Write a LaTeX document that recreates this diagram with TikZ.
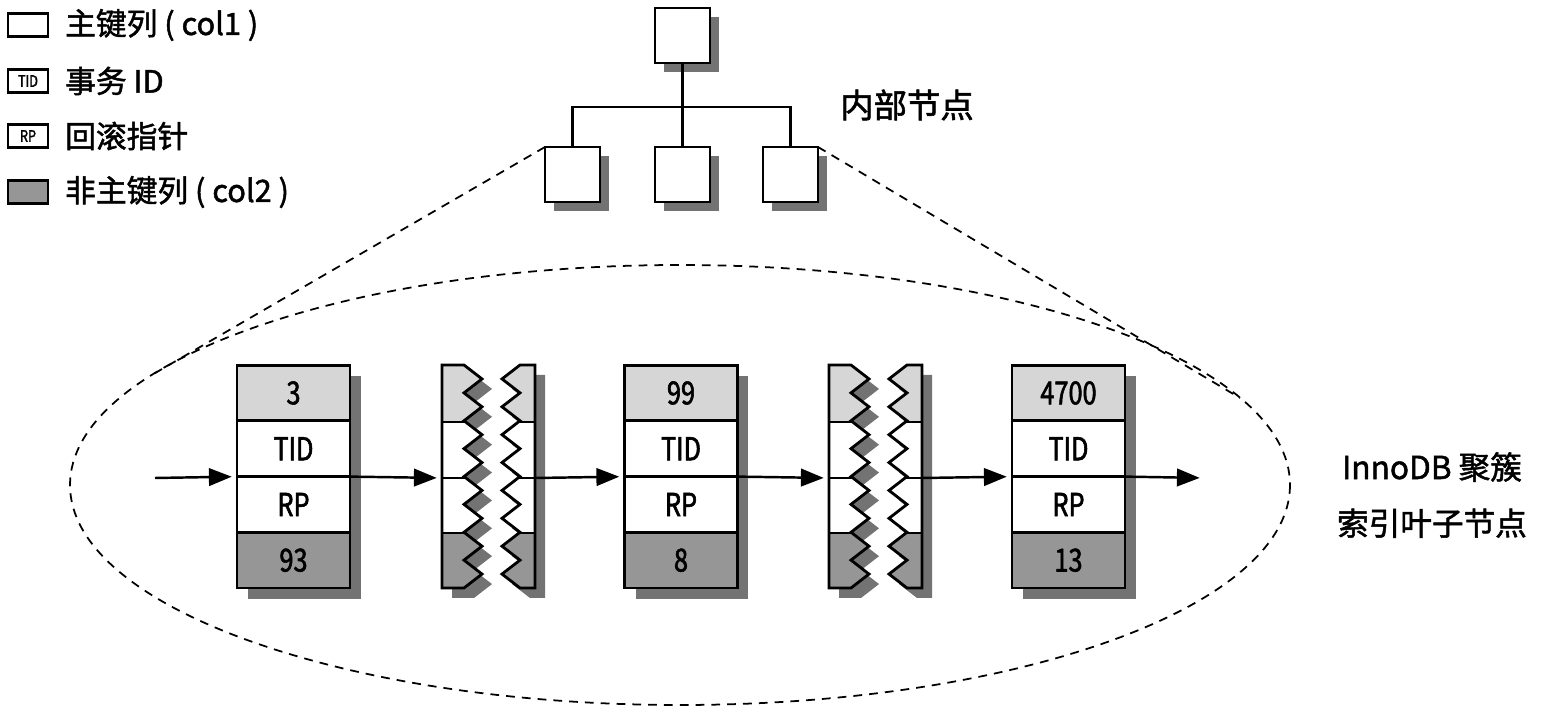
\documentclass[tikz,border=0pt]{standalone}
\usepackage{fontspec}
\setmainfont{Noto Sans CJK SC}[AutoFakeBold=1.6]
\newfontfamily\narrowfont[FakeStretch=0.8, AutoFakeBold=1.8]{Noto Sans CJK SC}
\usetikzlibrary{positioning,arrows.meta,backgrounds}
\definecolor{keycol}{RGB}{214,214,214}
\definecolor{othercol}{RGB}{150,150,150}
\definecolor{shadowcol}{RGB}{115,115,115}

\tikzset{
    lpiece/.style={insert path={(0,365) -- (22,365)
        \foreach \i in {0,...,7}{ -- (40,{365+27.875*\i+13.94}) -- (22,{365+27.875*(\i+1)}) }
        -- (0,588) -- cycle}},
    rpiece/.style={insert path={(93,365) -- (78,365)
        \foreach \i in {0,...,7}{ -- (60,{365+27.875*\i+13.94}) -- (78,{365+27.875*(\i+1)}) }
        -- (93,588) -- cycle}}
}

\begin{document}
\begin{tikzpicture}[x=0.02cm, y=-0.02cm]
    \tikzstyle{cell} = [draw, line width=1.6pt, outer sep=0pt, inner sep=0pt, fill=white,
        minimum width=2.26cm, minimum height=1.115cm, font=\narrowfont\bfseries\fontsize{18}{18}\selectfont]
    \tikzstyle{keycell} = [cell, fill=keycol]
    \tikzstyle{othercell} = [cell, fill=othercol]
    \tikzstyle{tbox} = [draw, line width=1.6pt, fill=white, outer sep=0pt, minimum size=1.1cm]
    \tikzstyle{lbox} = [draw, line width=1.2pt, outer sep=0pt, inner sep=0pt, minimum width=0.8cm,
        minimum height=0.46cm, font=\narrowfont\bfseries\fontsize{9}{9}\selectfont]
    \tikzstyle{ltext} = [right=0.22cm, font=\bfseries\fontsize{17.5}{17.5}\selectfont]
    \tikzstyle{link} = [line width=1.4pt, -{Triangle[length=13pt,width=10pt]}, shorten >=3pt]
    \tikzstyle{tear} = [dash pattern=on 5pt off 4pt, line width=1pt]
    \tikzstyle{branch} = [line width=1.4pt]
    \useasboundingbox (0,0) rectangle (1552,722);

    % legend
    \node[lbox, fill=white] (lkey) at (28,25) {};
    \node[ltext] at (lkey.east) {主键列 ( col1 )};
    \node[lbox] (ltid) at (28,81) {TID};
    \node[ltext] at (ltid.east) {事务 ID};
    \node[lbox] (lrp) at (28,136) {RP};
    \node[ltext] at (lrp.east) {回滚指针};
    \node[lbox, fill=othercol] (lother) at (28,192) {};
    \node[ltext] at (lother.east) {非主键列 ( col2 )};

    % internal nodes
    \node[tbox] (root) at (682.5,35.5) {};
    \node[tbox] (c1) at (572.5,174.5) {};
    \node[tbox] (c2) at (682.5,174.5) {};
    \node[tbox] (c3) at (790.5,174.5) {};
    \begin{scope}[on background layer]
        \foreach \n in {root, c1, c2, c3}
            \fill[shadowcol] ([shift={(9,9)}]\n.north west) rectangle ([shift={(9,9)}]\n.south east);
    \end{scope}
    \coordinate (hub) at (682.5,107);
    \draw[branch] (root) -- (hub) -- (c2);
    \draw[branch] (c1) -- (c1 |- hub) -- (c3 |- hub) -- (c3);
    \node[anchor=west, font=\bfseries\fontsize{19}{19}\selectfont] at (834,105) {内部节点};

    % leaf level
    \draw[tear] (680,485) ellipse [x radius=610, y radius=220];
    \coordinate (eleft) at (150,376);
    \coordinate (eright) at (1240,398);
    \draw[tear] (c1.north west) -- (eleft);
    \draw[tear] (c3.north east) -- (eright);

    \node[keycell] (p1k) at (293.5,393) {3};
    \node[cell, below=0pt of p1k] (p1t) {TID};
    \node[cell, below=0pt of p1t] (p1r) {RP};
    \node[othercell, below=0pt of p1r] (p1o) {93};

    \node[keycell] (p3k) at (681,393) {99};
    \node[cell, below=0pt of p3k] (p3t) {TID};
    \node[cell, below=0pt of p3t] (p3r) {RP};
    \node[othercell, below=0pt of p3r] (p3o) {8};

    \node[keycell] (p5k) at (1068.5,393) {4700};
    \node[cell, below=0pt of p5k] (p5t) {TID};
    \node[cell, below=0pt of p5t] (p5r) {RP};
    \node[othercell, below=0pt of p5r] (p5o) {13};

    \begin{scope}[on background layer]
        \foreach \n in {p1, p3, p5}
            \fill[shadowcol] ([shift={(11,11)}]\n k.north west) rectangle ([shift={(11,11)}]\n o.south east);
    \end{scope}

    \foreach \x/\n in {442/t2, 829/t4}{
        \begin{scope}[shift={(\x,0)}]
            \fill[shadowcol, shift={(10,10)}, lpiece];
            \fill[shadowcol, shift={(10,10)}, rpiece];
            \foreach \piece in {lpiece, rpiece}{
                \begin{scope}
                    \clip[\piece];
                    \fill[white] (0,365) rectangle (93,588);
                    \fill[keycol] (0,365) rectangle (93,422);
                    \fill[othercol] (0,533) rectangle (93,588);
                    \draw[line width=1.4pt] (0,422) -- (93,422) (0,478) -- (93,478) (0,533) -- (93,533);
                \end{scope}
                \draw[line width=1.6pt, line join=miter, \piece];
            }
            \coordinate (\n-in) at (0,478);
            \coordinate (\n-out) at (93,478);
        \end{scope}
    }

    \coordinate (start) at (155,478);
    \coordinate (end) at (1205,478);
    \draw[link] (start) -- (p1t.south west);
    \draw[link] (p1t.south east) -- (t2-in);
    \draw[link] (t2-out) -- (p3t.south west);
    \draw[link] (p3t.south east) -- (t4-in);
    \draw[link] (t4-out) -- (p5t.south west);
    \draw[link] (p5t.south east) -- (end);

    \node[font=\bfseries\fontsize{18}{18}\selectfont, align=center] (leaf) at (1432,495)
        {InnoDB 聚簇\\[14pt]索引叶子节点};
\end{tikzpicture}
\end{document}
